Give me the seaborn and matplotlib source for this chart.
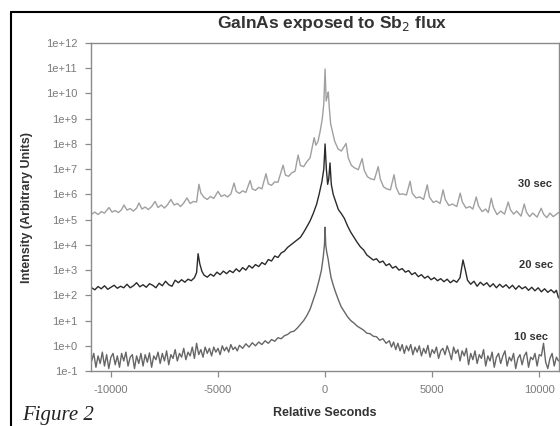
import numpy as np
import pandas as pd
import matplotlib.pyplot as plt
import seaborn as sns
from matplotlib.lines import Line2D

# --- данные (секунды, log10 интенсивности) ---
sec_30 = [-10900, -10750, -10600, -10450, -10300, -10090, -9950, -9800, -9650, -9500,
          -9390, -9250, -9100, -8950, -8800, -8690, -8550, -8400, -8250, -8100,
          -7940, -7800, -7650, -7500, -7350, -7200, -7050, -6900, -6750, -6600,
          -6450, -6300, -6150, -6000, -5890, -5800, -5650, -5500, -5350, -5200,
          -5000, -4850, -4700, -4550, -4400, -4250, -4150, -4000, -3850, -3700,
          -3500, -3400, -3250, -3100, -2950, -2760, -2650, -2500, -2350, -2200,
          -1960, -1850, -1700, -1550, -1400, -1260, -1150, -1000, -850, -700,
          -510, -430, -330, -230, -130, -60, 0, 50, 110, 150,
          200, 260, 340, 450, 610, 760, 980, 1080, 1230, 1380,
          1550, 1730, 1830, 1980, 2130, 2300, 2480, 2580, 2730, 2880,
          3050, 3220, 3320, 3470, 3620, 3800, 3970, 4070, 4250, 4420,
          4600, 4770, 4870, 5050, 5200, 5370, 5510, 5610, 5780, 5950,
          6150, 6310, 6410, 6580, 6750, 6900, 7060, 7160, 7330, 7500,
          7620, 7760, 7860, 8030, 8200, 8380, 8550, 8650, 8800, 8950,
          9150, 9300, 9400, 9550, 9700, 9900, 10090, 10200, 10350, 10500,
          10650, 10900]
log_30 = [5.22, 5.30, 5.20, 5.32, 5.26, 5.48, 5.30, 5.36, 5.28, 5.40,
          5.58, 5.38, 5.44, 5.34, 5.46, 5.66, 5.42, 5.50, 5.40, 5.52,
          5.72, 5.48, 5.58, 5.46, 5.60, 5.80, 5.58, 5.64, 5.52, 5.66,
          5.86, 5.64, 5.72, 5.70, 6.40, 6.05, 5.88, 5.80, 5.92, 5.84,
          6.12, 5.92, 5.98, 5.90, 6.02, 6.45, 6.12, 6.04, 6.14, 6.08,
          6.55, 6.22, 6.16, 6.28, 6.22, 6.82, 6.42, 6.36, 6.50, 6.48,
          7.16, 6.76, 6.72, 6.86, 6.92, 7.56, 7.15, 7.10, 7.30, 7.45,
          8.25, 7.95, 8.10, 8.50, 9.00, 9.60, 10.97, 9.70, 9.90, 10.06,
          9.40, 8.80, 8.50, 8.10, 7.80, 7.72, 8.02, 7.45, 7.15, 7.05,
          6.98, 7.42, 6.95, 6.70, 6.62, 6.58, 7.10, 6.60, 6.30, 6.22,
          6.18, 6.78, 6.28, 6.00, 6.02, 5.98, 6.52, 6.05, 5.86, 5.90,
          5.80, 6.38, 5.90, 5.68, 5.74, 5.64, 6.18, 5.80, 5.56, 5.62,
          5.52, 6.05, 5.70, 5.46, 5.52, 5.42, 5.90, 5.55, 5.32, 5.42,
          5.28, 5.85, 5.48, 5.20, 5.34, 5.22, 5.70, 5.40, 5.22, 5.34,
          5.14, 5.62, 5.30, 5.12, 5.26, 5.10, 5.45, 5.22, 5.08, 5.26,
          5.12, 5.28]

sec_20 = [-10900, -10750, -10600, -10450, -10300, -10150, -10000, -9850, -9700, -9550,
          -9400, -9250, -9100, -8950, -8800, -8650, -8500, -8350, -8200, -8050,
          -7900, -7750, -7600, -7450, -7300, -7150, -7000, -6850, -6700, -6550,
          -6400, -6250, -6100, -6000, -5930, -5850, -5750, -5650, -5500, -5350,
          -5200, -5050, -4900, -4750, -4600, -4450, -4300, -4150, -4000, -3850,
          -3700, -3550, -3400, -3250, -3100, -2950, -2800, -2650, -2500, -2350,
          -2200, -2050, -1900, -1750, -1600, -1450, -1300, -1150, -1000, -850,
          -700, -550, -400, -280, -150, -60, 0, 60, 120, 170,
          230, 290, 380, 500, 620, 750, 900, 1050, 1200, 1350,
          1500, 1650, 1800, 1950, 2100, 2250, 2400, 2550, 2700, 2850,
          3000, 3150, 3300, 3450, 3600, 3750, 3900, 4050, 4200, 4350,
          4500, 4650, 4800, 4950, 5100, 5250, 5400, 5550, 5700, 5850,
          6000, 6150, 6300, 6440, 6550, 6650, 6800, 6950, 7100, 7250,
          7400, 7550, 7700, 7850, 8000, 8150, 8300, 8450, 8600, 8750,
          8900, 9050, 9200, 9350, 9500, 9650, 9800, 9950, 10100, 10250,
          10400, 10550, 10700, 10800, 10900]
log_20 = [2.30, 2.22, 2.35, 2.26, 2.38, 2.24, 2.32, 2.40, 2.28, 2.36,
          2.30, 2.44, 2.30, 2.38, 2.50, 2.34, 2.42, 2.32, 2.46, 2.40,
          2.30, 2.48, 2.38, 2.56, 2.42, 2.36, 2.60, 2.50, 2.62, 2.52,
          2.64, 2.58, 2.70, 2.90, 3.65, 3.25, 2.95, 2.80, 2.72, 2.84,
          2.76, 2.92, 2.82, 2.96, 2.86, 2.98, 2.90, 3.05, 2.94, 3.10,
          3.00, 3.18, 3.08, 3.22, 3.14, 3.30, 3.22, 3.42, 3.36, 3.56,
          3.50, 3.68, 3.75, 3.90, 4.00, 4.10, 4.20, 4.30, 4.50, 4.72,
          4.95, 5.25, 5.60, 6.00, 6.50, 7.00, 8.00, 7.00, 6.40, 6.60,
          7.25, 6.40, 6.00, 5.70, 5.40, 5.25, 5.05, 4.75, 4.50, 4.30,
          4.10, 3.92, 3.80, 3.60, 3.50, 3.40, 3.45, 3.30, 3.36, 3.18,
          3.25, 3.08, 3.15, 3.00, 3.06, 2.92, 2.98, 2.82, 2.90, 2.74,
          2.82, 2.68, 2.76, 2.62, 2.70, 2.58, 2.66, 2.54, 2.64, 2.50,
          2.60, 2.52, 2.70, 3.40, 3.00, 2.60, 2.44, 2.56, 2.36, 2.52,
          2.40, 2.50, 2.34, 2.46, 2.30, 2.44, 2.32, 2.42, 2.28, 2.40,
          2.24, 2.38, 2.26, 2.34, 2.20, 2.32, 2.18, 2.30, 2.14, 2.26,
          2.12, 2.22, 2.10, 2.20, 1.90]

sec_10 = [-10900, -10800, -10700, -10600, -10500, -10400, -10300, -10200, -10100, -10000,
          -9900, -9800, -9700, -9600, -9500, -9400, -9300, -9200, -9100, -9000,
          -8900, -8800, -8700, -8600, -8500, -8400, -8300, -8200, -8100, -8000,
          -7900, -7800, -7700, -7600, -7500, -7400, -7300, -7200, -7100, -7000,
          -6900, -6800, -6700, -6600, -6500, -6400, -6300, -6200, -6100, -6000,
          -5900, -5800, -5700, -5600, -5500, -5400, -5300, -5200, -5100, -5000,
          -4900, -4800, -4700, -4600, -4500, -4400, -4300, -4200, -4100, -4000,
          -3850, -3700, -3550, -3400, -3250, -3100, -2950, -2800, -2650, -2500,
          -2350, -2200, -2050, -1900, -1750, -1600, -1450, -1300, -1150, -1000,
          -850, -700, -560, -420, -280, -170, -90, -30, 0, 30,
          80, 140, 210, 280, 400, 510, 630, 750, 900, 1050,
          1200, 1350, 1500, 1650, 1800, 1950, 2100, 2250, 2400, 2550,
          2700, 2850, 3000, 3100, 3200, 3300, 3400, 3500, 3600, 3700,
          3800, 3900, 4000, 4100, 4200, 4300, 4400, 4500, 4600, 4700,
          4800, 4900, 5000, 5100, 5200, 5300, 5400, 5500, 5600, 5700,
          5800, 5900, 6000, 6100, 6200, 6300, 6400, 6500, 6600, 6700,
          6800, 6900, 7000, 7100, 7200, 7300, 7400, 7500, 7600, 7700,
          7800, 7900, 8000, 8100, 8200, 8300, 8400, 8500, 8600, 8700,
          8800, 8900, 9000, 9100, 9200, 9300, 9400, 9500, 9600, 9700,
          9800, 9900, 10000, 10100, 10200, 10300, 10400, 10500, 10600, 10700,
          10800, 10900]
log_10 = [-0.60, -0.30, -0.85, -0.40, -0.70, -0.25, -0.80, -0.35, -0.90, -0.45,
          -0.30, -0.75, -0.40, -0.85, -0.30, -0.60, -0.25, -0.80, -0.45, -0.35,
          -0.90, -0.40, -0.70, -0.30, -0.80, -0.35, -0.65, -0.28, -0.85, -0.40,
          -0.55, -0.25, -0.70, -0.30, -0.60, -0.20, -0.75, -0.35, -0.50, -0.15,
          -0.60, -0.30, -0.45, -0.10, -0.55, -0.25, -0.40, -0.05, -0.50, 0.10,
          -0.35, -0.15, -0.45, -0.05, -0.30, -0.10, -0.40, -0.05, -0.25, -0.10,
          -0.35, 0.00, -0.20, -0.05, -0.25, 0.05, -0.15, -0.05, -0.20, 0.02,
          -0.10, 0.08, -0.05, 0.12, 0.00, 0.15, 0.05, 0.20, 0.10, 0.25,
          0.18, 0.32, 0.28, 0.40, 0.45, 0.55, 0.58, 0.70, 0.85, 1.00,
          1.20, 1.45, 1.80, 2.15, 2.60, 3.00, 3.50, 4.00, 4.70, 4.00,
          3.70, 3.45, 3.05, 2.70, 2.35, 2.08, 1.80, 1.55, 1.35, 1.15,
          1.00, 0.90, 0.78, 0.70, 0.62, 0.50, 0.48, 0.38, 0.36, 0.22,
          0.28, 0.10, 0.20, -0.05, 0.15, -0.15, 0.10, -0.20, 0.05, -0.30,
          0.00, -0.20, 0.05, -0.35, -0.05, -0.25, 0.00, -0.40, -0.10, -0.30,
          0.02, -0.45, -0.15, -0.30, -0.05, -0.50, -0.20, -0.10, -0.35, 0.00,
          -0.25, -0.55, -0.05, -0.30, -0.15, -0.60, -0.20, -0.40, -0.10, -0.75,
          -0.30, -0.55, -0.20, -0.70, -0.35, -0.50, -0.15, -0.80, -0.40, -0.60,
          -0.25, -0.85, -0.45, -0.30, -0.70, -0.40, -0.20, -0.80, -0.45, -0.60,
          -0.30, -0.90, -0.50, -0.35, -0.75, -0.40, -0.25, -0.85, -0.45, -0.55,
          -0.30, -0.80, -0.35, -0.40, 0.10, -0.65, -0.90, -0.50, -0.30, -0.80,
          -0.45, -0.60]

y_ticks = [1e-1, 1e0, 1e1, 1e2, 1e3, 1e4, 1e5, 1e6, 1e7, 1e8, 1e9, 1e10, 1e11, 1e12]
y_tick_labels = ['1e-1', '1e+0', '1e+1', '1e+2', '1e+3', '1e+4', '1e+5', '1e+6',
                 '1e+7', '1e+8', '1e+9', '1e+10', '1e+11', '1e+12']
x_ticks = [-10000, -5000, 0, 5000, 10000]
x_tick_labels = ['-10000', '-5000', '0', '5000', '10000']

# собираем в одну таблицу
df = pd.concat([
    pd.DataFrame({'sec': sec_30, 'I': 10 ** np.array(log_30), 'run': '30 sec'}),
    pd.DataFrame({'sec': sec_20, 'I': 10 ** np.array(log_20), 'run': '20 sec'}),
    pd.DataFrame({'sec': sec_10, 'I': 10 ** np.array(log_10), 'run': '10 sec'}),
])
colors = {'30 sec': '#a0a0a0', '20 sec': '#2b2b2b', '10 sec': '#666666'}

sns.set_style('ticks')
plt.rcParams['font.family'] = ['Liberation Sans', 'DejaVu Sans']

fig = plt.figure(figsize=(5.6, 4.26), dpi=100)
ax = fig.add_axes([0.1625, 0.129, 0.836, 0.770])

sns.lineplot(data=df, x='sec', y='I', hue='run', palette=colors, sort=False,
             estimator=None, linewidth=1.0, legend=False, ax=ax)

ax.set_yscale('log')
ax.set_ylim(1e-1, 1e12)
ax.set_xlim(-10930, 10930)
ax.set_yticks(y_ticks)
ax.set_yticklabels(y_tick_labels)
ax.set_xticks(x_ticks)
ax.set_xticklabels(x_tick_labels)
ax.minorticks_off()
ax.tick_params(axis='both', labelsize=8, colors='#8a8a8a', labelcolor='#7a7a7a',
               length=4, width=0.9)
ax.tick_params(axis='x', pad=6)
ax.tick_params(axis='y', pad=6)
for sp in ax.spines.values():
    sp.set_color('#8a8a8a')
    sp.set_linewidth(1.0)

ax.set_xlabel('Relative Seconds', fontsize=9, fontweight='bold', color='#333333', labelpad=9)
ax.set_ylabel('Intensity (Arbitrary Units)', fontsize=9, fontweight='bold', color='#333333', labelpad=9)

# подписи кривых
ax.text(10600, 2.5e6, '30 sec', ha='right', va='center', fontsize=8, fontweight='bold', color='#333333')
ax.text(10650, 1.6e3, '20 sec', ha='right', va='center', fontsize=8, fontweight='bold', color='#333333')
ax.text(10420, 2.2, '10 sec', ha='right', va='center', fontsize=8, fontweight='bold', color='#333333')

fig.text(0.593, 0.944, 'GaInAs exposed to Sb$_2$ flux', ha='center', va='center',
         fontsize=12.5, fontweight='bold', color='#333333')
fig.text(0.04, 0.003, 'Figure 2', ha='left', va='bottom', fontsize=15,
         style='italic', family='Liberation Serif', color='#222222')

# рамка страницы
fig.add_artist(Line2D([11 / 560, 11 / 560], [0, 1 - 12 / 426], color='black', linewidth=1.5))
fig.add_artist(Line2D([11 / 560, 1], [1 - 12 / 426, 1 - 12 / 426], color='black', linewidth=1.5))

fig.savefig('out.png', dpi=100)
